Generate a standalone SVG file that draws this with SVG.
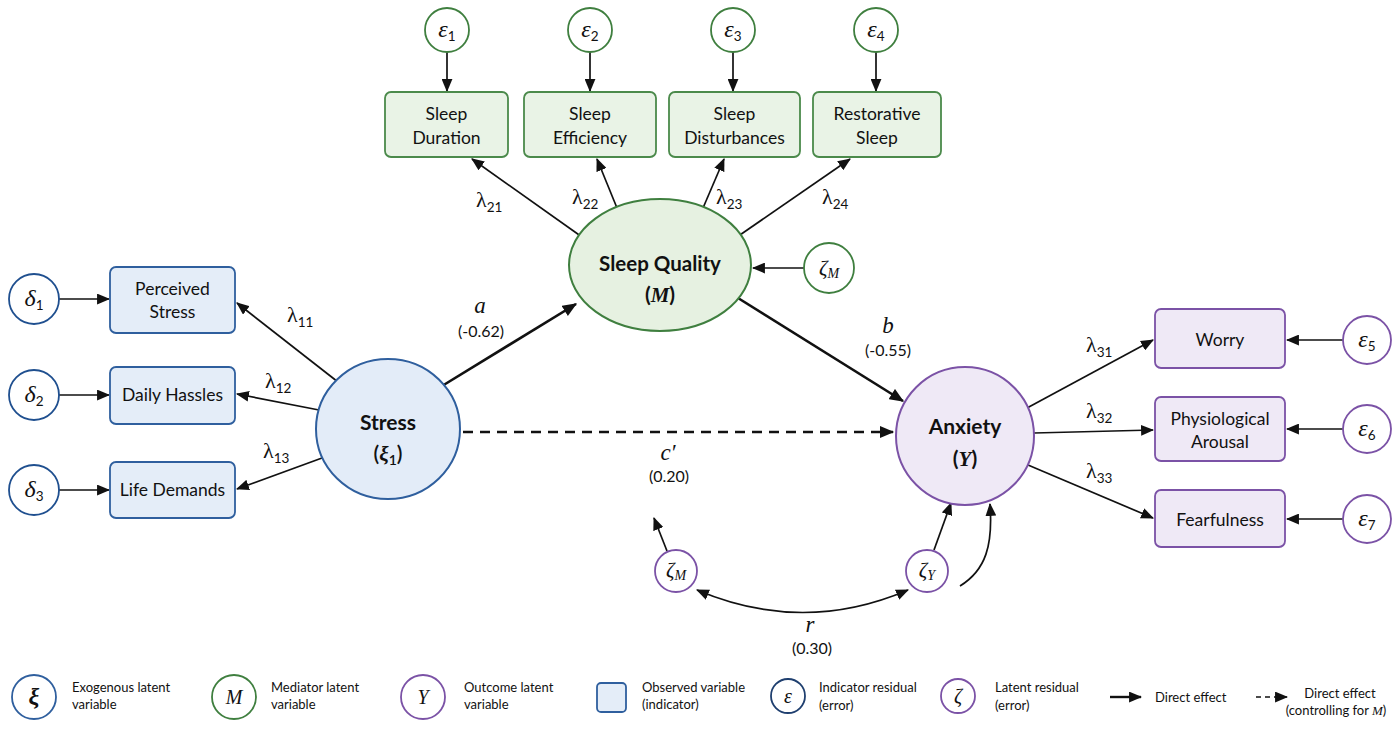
<svg xmlns="http://www.w3.org/2000/svg" width="1400" height="746" viewBox="0 0 1400 746">
<defs>
<marker id="ah" viewBox="0 0 12 10" refX="11" refY="5" markerWidth="13" markerHeight="11" orient="auto" markerUnits="userSpaceOnUse"><path d="M0,0 L12,5 L0,10 z" fill="#111"/></marker>
<marker id="ahs" viewBox="0 0 12 10" refX="11" refY="5" markerWidth="13" markerHeight="11" orient="auto-start-reverse" markerUnits="userSpaceOnUse"><path d="M0,0 L12,5 L0,10 z" fill="#111"/></marker>
<marker id="ahb" viewBox="0 0 12 10" refX="11" refY="5" markerWidth="15" markerHeight="12" orient="auto" markerUnits="userSpaceOnUse"><path d="M0,0 L12,5 L0,10 z" fill="#111"/></marker>
</defs>
<style>
.bg{fill:#ffffff}
.t{font-family:Lato,"Liberation Sans",sans-serif;font-size:17.5px;fill:#111;text-anchor:middle}
.tb{font-family:Lato,"Liberation Sans",sans-serif;font-size:21px;font-weight:bold;fill:#111;text-anchor:middle}
.gk{font-family:"Liberation Serif","DejaVu Serif",serif;font-style:italic;font-size:24px;fill:#111;text-anchor:middle}
.gs{font-family:"Liberation Serif","DejaVu Serif",serif;font-style:italic;font-size:21px;fill:#111}
.lam{font-family:"Liberation Serif","DejaVu Serif",serif;font-size:22px;fill:#111}
.sb{font-family:Lato,"Liberation Sans",sans-serif;font-style:normal;font-size:13.5px}
.sbi{font-family:"Liberation Serif",serif;font-style:italic;font-size:14px}
.num{font-family:Lato,"Liberation Sans",sans-serif;font-size:16px;fill:#111;text-anchor:middle}
.it{font-family:"Liberation Serif","DejaVu Serif",serif;font-style:italic;font-size:23px;fill:#111;text-anchor:middle}
.lg{font-family:Lato,"Liberation Sans",sans-serif;font-size:13px;fill:#111}
.bbox{fill:#e4edf8;stroke:#2f5f9e;stroke-width:1.8}
.gbox{fill:#e9f3e6;stroke:#4b8a4b;stroke-width:1.8}
.pbox{fill:#efe9f6;stroke:#7b52a6;stroke-width:1.8}
.bc{fill:#ffffff;stroke:#1f4f8f;stroke-width:1.8}
.gc{fill:#ffffff;stroke:#3f7f3f;stroke-width:1.8}
.pc{fill:#ffffff;stroke:#7b52a6;stroke-width:1.8}
.ln{stroke:#111;stroke-width:1.7;fill:none;marker-end:url(#ah)}
.lnb{stroke:#111;stroke-width:2.6;fill:none;marker-end:url(#ahb)}
</style>
<rect class="bg" x="0" y="0" width="1400" height="746"/>

<g id="connectors">
  <line class="ln" x1="447" y1="52" x2="447" y2="91"/>
  <line class="ln" x1="590" y1="52" x2="590" y2="91"/>
  <line class="ln" x1="733" y1="52" x2="733" y2="91"/>
  <line class="ln" x1="876" y1="52" x2="876" y2="91"/>
  <line class="ln" x1="582" y1="237" x2="472" y2="159"/>
  <line class="ln" x1="617" y1="208" x2="597" y2="159"/>
  <line class="ln" x1="703" y1="208" x2="724" y2="159"/>
  <line class="ln" x1="737" y1="237" x2="850" y2="159"/>
  <line class="ln" x1="804" y1="268" x2="753" y2="268"/>
  <line class="ln" x1="59" y1="299" x2="109" y2="299"/>
  <line class="ln" x1="59" y1="395" x2="109" y2="395"/>
  <line class="ln" x1="59" y1="490" x2="109" y2="490"/>
  <line class="ln" x1="338" y1="382" x2="237" y2="303"/>
  <line class="ln" x1="319" y1="410" x2="237" y2="394"/>
  <line class="ln" x1="322" y1="458" x2="237" y2="489"/>
  <line class="lnb" x1="442" y1="386" x2="576" y2="304"/>
  <line class="lnb" x1="738" y1="298" x2="903" y2="401"/>
  <line x1="463" y1="432" x2="893" y2="432" stroke="#111" stroke-width="2.6" stroke-dasharray="10,7" marker-end="url(#ahb)"/>
  <line class="ln" x1="1027" y1="408" x2="1153" y2="340"/>
  <line class="ln" x1="1034" y1="433" x2="1153" y2="430"/>
  <line class="ln" x1="1028" y1="465" x2="1153" y2="518"/>
  <line class="ln" x1="1343" y1="340" x2="1287" y2="340"/>
  <line class="ln" x1="1343" y1="429" x2="1287" y2="429"/>
  <line class="ln" x1="1343" y1="519" x2="1287" y2="519"/>
  <line class="ln" x1="667" y1="551" x2="654" y2="518"/>
  <line class="ln" x1="934" y1="550" x2="951" y2="503"/>
  <path class="ln" d="M960,586 C986,570 993,545 990,504"/>
  <path d="M697,590 Q803,635 908,590" stroke="#111" stroke-width="1.7" fill="none" marker-start="url(#ahs)" marker-end="url(#ahs)"/>
</g>

<g id="labels">
  <text class="lam" x="476" y="207">λ<tspan class="sb" dy="5">21</tspan></text>
  <text class="lam" x="572" y="204">λ<tspan class="sb" dy="5">22</tspan></text>
  <text class="lam" x="716" y="204">λ<tspan class="sb" dy="5">23</tspan></text>
  <text class="lam" x="822" y="204">λ<tspan class="sb" dy="5">24</tspan></text>
  <text class="lam" x="287" y="322">λ<tspan class="sb" dy="5">11</tspan></text>
  <text class="lam" x="265" y="388">λ<tspan class="sb" dy="5">12</tspan></text>
  <text class="lam" x="263" y="458">λ<tspan class="sb" dy="5">13</tspan></text>
  <text class="lam" x="1086" y="352">λ<tspan class="sb" dy="5">31</tspan></text>
  <text class="lam" x="1086" y="418">λ<tspan class="sb" dy="5">32</tspan></text>
  <text class="lam" x="1086" y="478">λ<tspan class="sb" dy="5">33</tspan></text>
  <text class="it" x="480" y="313">a</text>
  <text class="num" x="481" y="337">(-0.62)</text>
  <text class="it" x="888" y="333">b</text>
  <text class="num" x="888" y="356">(-0.55)</text>
  <text class="it" x="668" y="460">c′</text>
  <text class="num" x="669" y="482">(0.20)</text>
  <text class="it" x="810" y="632">r</text>
  <text class="num" x="812" y="654">(0.30)</text>
</g>

<g id="eps1"><circle class="gc" cx="447" cy="30" r="22"/><text class="gk" x="447" y="37">ε<tspan class="sb" dy="4">1</tspan></text></g>
<g id="eps2"><circle class="gc" cx="590" cy="30" r="22"/><text class="gk" x="590" y="37">ε<tspan class="sb" dy="4">2</tspan></text></g>
<g id="eps3"><circle class="gc" cx="733" cy="30" r="22"/><text class="gk" x="733" y="37">ε<tspan class="sb" dy="4">3</tspan></text></g>
<g id="eps4"><circle class="gc" cx="876" cy="30" r="22"/><text class="gk" x="876" y="37">ε<tspan class="sb" dy="4">4</tspan></text></g>

<g id="sleep-duration"><rect class="gbox" x="385" y="92" width="123" height="65" rx="6"/><text class="t" x="446.5" y="120">Sleep</text><text class="t" x="446.5" y="144">Duration</text></g>
<g id="sleep-efficiency"><rect class="gbox" x="524" y="92" width="132" height="65" rx="6"/><text class="t" x="590" y="120">Sleep</text><text class="t" x="590" y="144">Efficiency</text></g>
<g id="sleep-disturbances"><rect class="gbox" x="669" y="92" width="131" height="65" rx="6"/><text class="t" x="734.5" y="120">Sleep</text><text class="t" x="734.5" y="144">Disturbances</text></g>
<g id="restorative-sleep"><rect class="gbox" x="813" y="92" width="128" height="65" rx="6"/><text class="t" x="877" y="120">Restorative</text><text class="t" x="877" y="144">Sleep</text></g>

<g id="sleep-quality"><ellipse cx="660" cy="265" rx="91" ry="66" fill="#e6f1e1" stroke="#3f7f3f" stroke-width="2"/><text class="tb" x="660" y="271" style="font-size:20.5px">Sleep Quality</text><text class="tb" x="660" y="302">(<tspan style="font-family:'Liberation Serif',serif;font-style:italic">M</tspan>)</text></g>
<g id="zeta-m-top"><circle class="gc" cx="829" cy="268" r="25"/><text class="gs" x="829" y="275" text-anchor="middle">ζ<tspan class="sbi" dy="3">M</tspan></text></g>

<g id="delta1"><circle class="bc" cx="34" cy="299" r="25"/><text class="gk" x="34" y="306">δ<tspan class="sb" dy="4">1</tspan></text></g>
<g id="delta2"><circle class="bc" cx="34" cy="395" r="25"/><text class="gk" x="34" y="402">δ<tspan class="sb" dy="4">2</tspan></text></g>
<g id="delta3"><circle class="bc" cx="34" cy="490" r="25"/><text class="gk" x="34" y="497">δ<tspan class="sb" dy="4">3</tspan></text></g>

<g id="perceived-stress"><rect class="bbox" x="110" y="267" width="125" height="66" rx="6"/><text class="t" x="172.5" y="295">Perceived</text><text class="t" x="172.5" y="318">Stress</text></g>
<g id="daily-hassles"><rect class="bbox" x="110" y="367" width="125" height="57" rx="6"/><text class="t" x="172.5" y="401">Daily Hassles</text></g>
<g id="life-demands"><rect class="bbox" x="110" y="462" width="125" height="56" rx="6"/><text class="t" x="172.5" y="496">Life Demands</text></g>

<g id="stress"><ellipse cx="388" cy="429" rx="72" ry="70" fill="#e3ecf8" stroke="#2f5f9e" stroke-width="2"/><text class="tb" x="388" y="430">Stress</text><text class="tb" x="388" y="461" style="font-weight:600">(<tspan style="font-family:'Liberation Serif',serif;font-style:italic">ξ</tspan><tspan style="font-size:14px" dy="4">1</tspan><tspan dy="-4">)</tspan></text></g>

<g id="anxiety"><circle cx="965" cy="436" r="69" fill="#efe9f6" stroke="#7b52a6" stroke-width="2"/><text class="tb" x="965" y="434">Anxiety</text><text class="tb" x="965" y="466">(<tspan style="font-family:'Liberation Serif',serif;font-style:italic">Y</tspan>)</text></g>

<g id="worry"><rect class="pbox" x="1155" y="309" width="130" height="59" rx="6"/><text class="t" x="1220" y="346">Worry</text></g>
<g id="physiological-arousal"><rect class="pbox" x="1155" y="397" width="130" height="64" rx="6"/><text class="t" x="1220" y="425">Physiological</text><text class="t" x="1220" y="448">Arousal</text></g>
<g id="fearfulness"><rect class="pbox" x="1155" y="490" width="130" height="57" rx="6"/><text class="t" x="1220" y="526">Fearfulness</text></g>

<g id="eps5"><circle class="pc" cx="1367" cy="340" r="24"/><text class="gk" x="1367" y="347">ε<tspan class="sb" dy="4">5</tspan></text></g>
<g id="eps6"><circle class="pc" cx="1367" cy="429" r="24"/><text class="gk" x="1367" y="436">ε<tspan class="sb" dy="4">6</tspan></text></g>
<g id="eps7"><circle class="pc" cx="1367" cy="519" r="24"/><text class="gk" x="1367" y="526">ε<tspan class="sb" dy="4">7</tspan></text></g>

<g id="zeta-m-bottom"><circle class="pc" cx="676" cy="571" r="21"/><text class="gs" x="676" y="577" text-anchor="middle">ζ<tspan class="sbi" dy="3">M</tspan></text></g>
<g id="zeta-y"><circle class="pc" cx="927" cy="571" r="21"/><text class="gs" x="927" y="577" text-anchor="middle">ζ<tspan class="sbi" dy="3">Y</tspan></text></g>

<g id="legend">
  <circle cx="34" cy="697" r="22" fill="#ffffff" stroke="#2f5f9e" stroke-width="1.8"/>
  <text class="gk" x="34" y="704" style="font-weight:bold">ξ</text>
  <text class="lg" x="72" y="692">Exogenous latent</text><text class="lg" x="72" y="709">variable</text>
  <circle cx="234" cy="697" r="22" fill="#ffffff" stroke="#3f7f3f" stroke-width="1.8"/>
  <text class="gk" x="234" y="704" style="font-size:20px">M</text>
  <text class="lg" x="271" y="692">Mediator latent</text><text class="lg" x="271" y="709">variable</text>
  <circle cx="423" cy="697" r="22" fill="#ffffff" stroke="#7b52a6" stroke-width="1.8"/>
  <text class="gk" x="423" y="704" style="font-size:20px">Y</text>
  <text class="lg" x="464" y="692">Outcome latent</text><text class="lg" x="464" y="709">variable</text>
  <rect x="597" y="683" width="29" height="29" rx="4" fill="#e4edf8" stroke="#2f5f9e" stroke-width="1.8"/>
  <text class="lg" x="642" y="692">Observed variable</text><text class="lg" x="642" y="709">(indicator)</text>
  <circle cx="788" cy="696" r="17" fill="#ffffff" stroke="#1f3f6f" stroke-width="1.8"/>
  <text class="gk" x="788" y="703" style="font-size:20px">ε</text>
  <text class="lg" x="819" y="692">Indicator residual</text><text class="lg" x="819" y="710">(error)</text>
  <circle cx="958" cy="696" r="17" fill="#ffffff" stroke="#7b52a6" stroke-width="1.8"/>
  <text class="gk" x="958" y="703" style="font-size:20px">ζ</text>
  <text class="lg" x="995" y="692">Latent residual</text><text class="lg" x="995" y="710">(error)</text>
  <line x1="1110" y1="697" x2="1141" y2="697" stroke="#111" stroke-width="2.4" marker-end="url(#ah)"/>
  <text class="lg" x="1155" y="702">Direct effect</text>
  <line x1="1256" y1="697" x2="1287" y2="697" stroke="#111" stroke-width="1.6" stroke-dasharray="5,4" marker-end="url(#ah)"/>
  <text class="lg" x="1340" y="698" text-anchor="middle">Direct effect</text>
  <text class="lg" x="1336" y="715" text-anchor="middle">(controlling for <tspan style="font-family:'Liberation Serif',serif;font-style:italic">M</tspan>)</text>
</g>
</svg>
